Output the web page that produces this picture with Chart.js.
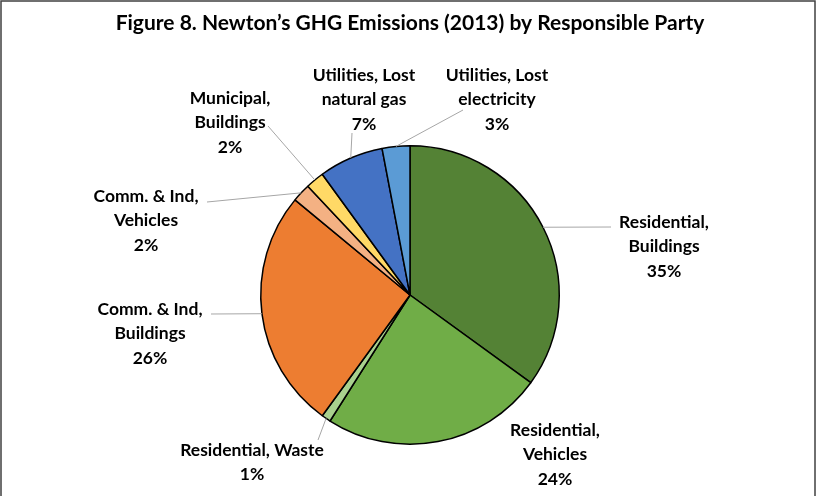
<!DOCTYPE html>
<html>
<head>
<meta charset="utf-8">
<script src="https://cdn.jsdelivr.net/npm/chart.js@4"></script>
<style>
  html, body { margin: 0; padding: 0; background: #fff; }
</style>
</head>
<body>
<canvas id="pieCanvas" width="817" height="496"></canvas>
<script>
// données
const categories = [
  "Residential, Buildings",
  "Residential, Vehicles",
  "Residential, Waste",
  "Comm. & Ind, Buildings",
  "Comm. & Ind, Vehicles",
  "Municipal, Buildings",
  "Utilities, Lost natural gas",
  "Utilities, Lost electricity"
];
const shares = [35, 24, 1, 26, 2, 2, 7, 3];
const colors = ["#548235", "#70AD47", "#A9D18E", "#ED7D31", "#F4B183", "#FFD966", "#4472C4", "#5B9BD5"];

// texte des étiquettes (une ligne par entrée)
const labelLines = [
  ["Residential,", "Buildings"],
  ["Residential,", "Vehicles"],
  ["Residential, Waste"],
  ["Comm. & Ind,", "Buildings"],
  ["Comm. & Ind,", "Vehicles"],
  ["Municipal,", "Buildings"],
  ["Utilities, Lost", "natural gas"],
  ["Utilities, Lost", "electricity"]
];
// position du bloc de texte (centre x, y de la première ligne) et bout du trait
const labelPos = [
  {x: 664, y: 222, lx: 611, ly: 227},
  {x: 555, y: 430, lx: null, ly: null},
  {x: 252, y: 450, lx: 318, ly: 440},
  {x: 150, y: 309, lx: 211, ly: 314},
  {x: 146, y: 196, lx: 207, ly: 202},
  {x: 230, y: 98,  lx: 268, ly: 126},
  {x: 364, y: 75,  lx: 352, ly: 133},
  {x: 497, y: 75,  lx: 463, ly: 110}
];

const FONT = "bold 17.5px Lato, 'Liberation Sans', sans-serif";

const labelPlugin = {
  id: "labels",
  afterDraw(chart) {
    const ctx = chart.ctx;
    ctx.save();
    // cadre
    ctx.strokeStyle = "#404040";
    ctx.lineWidth = 1.5;
    ctx.strokeRect(1, 1, 814, 510);
    // titre
    ctx.fillStyle = "#000";
    ctx.font = "bold 21px Lato, 'Liberation Sans', sans-serif";
    ctx.textAlign = "center";
    ctx.textBaseline = "middle";
    ctx.fillText("Figure 8. Newton\u2019s GHG Emissions (2013) by Responsible Party", 410, 23);

    const arcs = chart.getDatasetMeta(0).data;
    arcs.forEach((arc, i) => {
      const p = labelPos[i];
      // traits de rappel
      if (p.lx !== null) {
        const mid = (arc.startAngle + arc.endAngle) / 2;
        const ex = arc.x + Math.cos(mid) * arc.outerRadius;
        const ey = arc.y + Math.sin(mid) * arc.outerRadius;
        ctx.strokeStyle = "#A6A6A6";
        ctx.lineWidth = 1;
        ctx.beginPath();
        ctx.moveTo(p.lx, p.ly);
        ctx.lineTo(ex, ey);
        ctx.stroke();
      }
      // texte
      ctx.fillStyle = "#000";
      ctx.font = FONT;
      const lines = labelLines[i].concat([shares[i] + "%"]);
      lines.forEach((t, k) => ctx.fillText(t, p.x, p.y + k * 24.5));
    });
    ctx.restore();
  }
};

new Chart(document.getElementById("pieCanvas"), {
  type: "pie",
  data: {
    labels: categories,
    datasets: [{
      data: shares,
      backgroundColor: colors,
      borderColor: "#000",
      borderWidth: 1.5
    }]
  },
  options: {
    responsive: false,
    animation: false,
    layout: { padding: { left: 260, right: 257, top: 145, bottom: 51 } },
    plugins: {
      legend: { display: false },
      tooltip: { enabled: false }
    }
  },
  plugins: [labelPlugin]
});
</script>
</body>
</html>
